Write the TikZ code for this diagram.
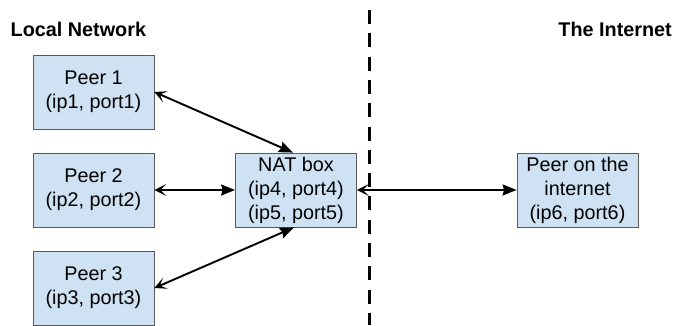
\documentclass[tikz,border=0pt]{standalone}
\usepackage{fontspec}
\setmainfont{Liberation Sans}
\usetikzlibrary{arrows.meta}
\definecolor{boxfill}{HTML}{CFE2F3}
\definecolor{boxline}{HTML}{595959}
\begin{document}
\begin{tikzpicture}[x=1pt,y=1pt,
  peerbox/.style={draw=boxline, line width=0.8pt, fill=boxfill, minimum width=121pt, minimum height=74pt,
    align=center, inner sep=0pt, font=\fontsize{19.8}{24}\selectfont},
  link/.style={line width=1.9pt,
    {Stealth[length=12pt,width=12pt,inset=6pt]}-{Stealth[length=14pt,width=11pt,inset=1.5pt]}},
  title/.style={font=\fontsize{19.8}{24}\selectfont\bfseries, inner sep=0pt}]
\useasboundingbox (0,0) rectangle (673,325);
\node[peerbox] (p1) at (93.5,233) {Peer 1\\(ip1, port1)};
\node[peerbox] (p2) at (93.5,135) {Peer 2\\(ip2, port2)};
\node[peerbox] (p3) at (93.5,37) {Peer 3\\(ip3, port3)};
\node[peerbox] (nat) at (296,135) {NAT box\\(ip4, port4)\\(ip5, port5)};
\node[peerbox] (inet) at (577.5,135) {Peer on the\\internet\\(ip6, port6)};
\node[title, anchor=base west] (ln) at (10.5,289) {Local Network};
\node[title, anchor=base east] (ti) at (672,289) {The Internet};
\coordinate (dtop) at (369.5,315);
\coordinate (dbot) at (369.5,0);
\draw[line width=3.3pt, dash pattern=on 14pt off 9.3pt] (dtop) -- (dbot);
\draw[link] (p1.east) -- ([xshift=-3pt]nat.north);
\draw[link] (p2.east) -- (nat.west);
\draw[link] (p3.east) -- ([xshift=-2pt]nat.south);
\draw[link] (nat.east) -- (inet.west);
\end{tikzpicture}
\end{document}
